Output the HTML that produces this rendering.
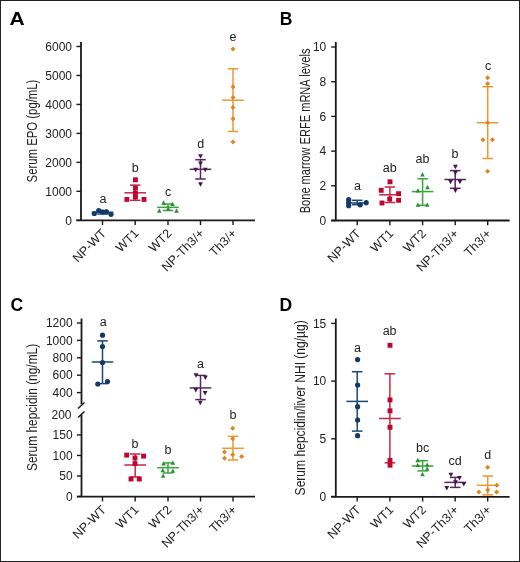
<!DOCTYPE html>
<html><head><meta charset="utf-8"><style>
html,body{margin:0;padding:0;background:#fff;}
#fig{position:relative;width:518px;height:560px;border:1px solid #222;background:#fff;overflow:hidden;}
svg{position:absolute;left:-1px;top:-1px;will-change:transform;}
svg text{font-family:"Liberation Sans", sans-serif;}
</style></head><body>
<div id="fig"><svg width="520" height="562" viewBox="0 0 520 562">
<text x="0.00" y="0.00" font-size="17.5" text-anchor="start" fill="#000" font-weight="bold" transform="translate(9.6,24.9) scale(1.2,1)">A</text>
<text x="279.80" y="24.90" font-size="17.5" text-anchor="start" fill="#000" font-weight="bold" >B</text>
<text x="10.60" y="310.50" font-size="17.5" text-anchor="start" fill="#000" font-weight="bold" >C</text>
<text x="279.60" y="310.50" font-size="17.5" text-anchor="start" fill="#000" font-weight="bold" >D</text>
<line x1="81.00" y1="42.00" x2="81.00" y2="220.30" stroke="#1a1a1a" stroke-width="1.8"/>
<line x1="76.40" y1="220.30" x2="81.00" y2="220.30" stroke="#1a1a1a" stroke-width="1.4"/>
<text x="72.00" y="224.50" font-size="12" text-anchor="end" fill="#222" font-weight="normal" >0</text>
<line x1="76.40" y1="191.33" x2="81.00" y2="191.33" stroke="#1a1a1a" stroke-width="1.4"/>
<text x="72.00" y="195.53" font-size="12" text-anchor="end" fill="#222" font-weight="normal" >1000</text>
<line x1="76.40" y1="162.36" x2="81.00" y2="162.36" stroke="#1a1a1a" stroke-width="1.4"/>
<text x="72.00" y="166.56" font-size="12" text-anchor="end" fill="#222" font-weight="normal" >2000</text>
<line x1="76.40" y1="133.39" x2="81.00" y2="133.39" stroke="#1a1a1a" stroke-width="1.4"/>
<text x="72.00" y="137.59" font-size="12" text-anchor="end" fill="#222" font-weight="normal" >3000</text>
<line x1="76.40" y1="104.42" x2="81.00" y2="104.42" stroke="#1a1a1a" stroke-width="1.4"/>
<text x="72.00" y="108.62" font-size="12" text-anchor="end" fill="#222" font-weight="normal" >4000</text>
<line x1="76.40" y1="75.45" x2="81.00" y2="75.45" stroke="#1a1a1a" stroke-width="1.4"/>
<text x="72.00" y="79.65" font-size="12" text-anchor="end" fill="#222" font-weight="normal" >5000</text>
<line x1="76.40" y1="46.48" x2="81.00" y2="46.48" stroke="#1a1a1a" stroke-width="1.4"/>
<text x="72.00" y="50.68" font-size="12" text-anchor="end" fill="#222" font-weight="normal" >6000</text>
<line x1="76.40" y1="220.30" x2="255.00" y2="220.30" stroke="#1a1a1a" stroke-width="1.8"/>
<line x1="102.50" y1="220.30" x2="102.50" y2="225.10" stroke="#1a1a1a" stroke-width="1.4"/>
<line x1="135.20" y1="220.30" x2="135.20" y2="225.10" stroke="#1a1a1a" stroke-width="1.4"/>
<line x1="168.00" y1="220.30" x2="168.00" y2="225.10" stroke="#1a1a1a" stroke-width="1.4"/>
<line x1="200.50" y1="220.30" x2="200.50" y2="225.10" stroke="#1a1a1a" stroke-width="1.4"/>
<line x1="233.00" y1="220.30" x2="233.00" y2="225.10" stroke="#1a1a1a" stroke-width="1.4"/>
<text x="0" y="0" font-size="12.5" text-anchor="end" fill="#222" transform="translate(106.80,234.10) rotate(-45)">NP-WT</text>
<text x="0" y="0" font-size="12.5" text-anchor="end" fill="#222" transform="translate(139.50,234.10) rotate(-45)">WT1</text>
<text x="0" y="0" font-size="12.5" text-anchor="end" fill="#222" transform="translate(172.30,234.10) rotate(-45)">WT2</text>
<text x="0" y="0" font-size="12.5" text-anchor="end" fill="#222" transform="translate(204.80,234.10) rotate(-45)">NP-Th3/+</text>
<text x="0" y="0" font-size="12.5" text-anchor="end" fill="#222" transform="translate(237.30,234.10) rotate(-45)">Th3/+</text>
<text x="0" y="0" font-size="14" text-anchor="middle" fill="#222" textLength="102.8" lengthAdjust="spacingAndGlyphs" transform="translate(36.60,131.00) rotate(-90)">Serum EPO (pg/mL)</text>
<line x1="102.50" y1="210.50" x2="102.50" y2="214.00" stroke="#1b4777" stroke-width="1.5"/>
<line x1="97.20" y1="210.50" x2="107.80" y2="210.50" stroke="#1b4777" stroke-width="1.5"/>
<line x1="97.20" y1="214.00" x2="107.80" y2="214.00" stroke="#1b4777" stroke-width="1.5"/>
<line x1="91.70" y1="212.30" x2="113.30" y2="212.30" stroke="#1b4777" stroke-width="1.5"/>
<circle cx="94.30" cy="213.50" r="2.6" fill="#133a66"/>
<circle cx="98.70" cy="210.50" r="2.6" fill="#133a66"/>
<circle cx="102.50" cy="212.00" r="2.6" fill="#133a66"/>
<circle cx="106.50" cy="211.80" r="2.6" fill="#133a66"/>
<circle cx="111.00" cy="214.30" r="2.6" fill="#133a66"/>
<line x1="135.20" y1="185.10" x2="135.20" y2="200.30" stroke="#c32848" stroke-width="1.5"/>
<line x1="129.90" y1="185.10" x2="140.50" y2="185.10" stroke="#c32848" stroke-width="1.5"/>
<line x1="129.90" y1="200.30" x2="140.50" y2="200.30" stroke="#c32848" stroke-width="1.5"/>
<line x1="124.40" y1="192.80" x2="146.00" y2="192.80" stroke="#c32848" stroke-width="1.5"/>
<rect x="132.95" y="177.35" width="4.9" height="4.9" fill="#c0062e"/>
<rect x="132.95" y="185.55" width="4.9" height="4.9" fill="#c0062e"/>
<rect x="132.95" y="190.55" width="4.9" height="4.9" fill="#c0062e"/>
<rect x="132.95" y="194.55" width="4.9" height="4.9" fill="#c0062e"/>
<rect x="124.45" y="196.95" width="4.9" height="4.9" fill="#c0062e"/>
<rect x="141.55" y="196.95" width="4.9" height="4.9" fill="#c0062e"/>
<line x1="168.00" y1="204.00" x2="168.00" y2="210.50" stroke="#38a53e" stroke-width="1.5"/>
<line x1="162.70" y1="204.00" x2="173.30" y2="204.00" stroke="#38a53e" stroke-width="1.5"/>
<line x1="162.70" y1="210.50" x2="173.30" y2="210.50" stroke="#38a53e" stroke-width="1.5"/>
<line x1="157.20" y1="207.30" x2="178.80" y2="207.30" stroke="#38a53e" stroke-width="1.5"/>
<path d="M163.60 200.35L165.90 204.65L161.30 204.65Z" fill="#2b8f34"/>
<path d="M172.50 201.65L174.80 205.95L170.20 205.95Z" fill="#2b8f34"/>
<path d="M168.20 206.35L170.50 210.65L165.90 210.65Z" fill="#2b8f34"/>
<path d="M159.30 208.35L161.60 212.65L157.00 212.65Z" fill="#2b8f34"/>
<path d="M176.50 208.35L178.80 212.65L174.20 212.65Z" fill="#2b8f34"/>
<line x1="200.50" y1="159.70" x2="200.50" y2="179.00" stroke="#55285e" stroke-width="1.5"/>
<line x1="195.20" y1="159.70" x2="205.80" y2="159.70" stroke="#55285e" stroke-width="1.5"/>
<line x1="195.20" y1="179.00" x2="205.80" y2="179.00" stroke="#55285e" stroke-width="1.5"/>
<line x1="189.70" y1="169.30" x2="211.30" y2="169.30" stroke="#55285e" stroke-width="1.5"/>
<path d="M198.10 154.35L202.90 154.35L200.50 158.85Z" fill="#45164c"/>
<path d="M198.10 161.55L202.90 161.55L200.50 166.05Z" fill="#45164c"/>
<path d="M193.30 167.65L198.10 167.65L195.70 172.15Z" fill="#45164c"/>
<path d="M202.90 167.65L207.70 167.65L205.30 172.15Z" fill="#45164c"/>
<path d="M198.10 182.35L202.90 182.35L200.50 186.85Z" fill="#45164c"/>
<line x1="233.00" y1="68.80" x2="233.00" y2="131.50" stroke="#eb9733" stroke-width="1.5"/>
<line x1="227.70" y1="68.80" x2="238.30" y2="68.80" stroke="#eb9733" stroke-width="1.5"/>
<line x1="227.70" y1="131.50" x2="238.30" y2="131.50" stroke="#eb9733" stroke-width="1.5"/>
<line x1="222.20" y1="100.20" x2="243.80" y2="100.20" stroke="#eb9733" stroke-width="1.5"/>
<path d="M233.00 46.60L235.50 49.10L233.00 51.60L230.50 49.10Z" fill="#df851f"/>
<path d="M233.00 84.30L235.50 86.80L233.00 89.30L230.50 86.80Z" fill="#df851f"/>
<path d="M233.00 95.00L235.50 97.50L233.00 100.00L230.50 97.50Z" fill="#df851f"/>
<path d="M233.00 104.90L235.50 107.40L233.00 109.90L230.50 107.40Z" fill="#df851f"/>
<path d="M233.00 116.30L235.50 118.80L233.00 121.30L230.50 118.80Z" fill="#df851f"/>
<path d="M233.00 139.40L235.50 141.90L233.00 144.40L230.50 141.90Z" fill="#df851f"/>
<text x="102.90" y="203.00" font-size="12.5" text-anchor="middle" fill="#222" font-weight="normal" >a</text>
<text x="135.30" y="172.00" font-size="12.5" text-anchor="middle" fill="#222" font-weight="normal" >b</text>
<text x="168.10" y="195.90" font-size="12.5" text-anchor="middle" fill="#222" font-weight="normal" >c</text>
<text x="200.80" y="148.00" font-size="12.5" text-anchor="middle" fill="#222" font-weight="normal" >d</text>
<text x="233.10" y="40.60" font-size="12.5" text-anchor="middle" fill="#222" font-weight="normal" >e</text>
<line x1="335.80" y1="42.00" x2="335.80" y2="220.50" stroke="#1a1a1a" stroke-width="1.8"/>
<line x1="331.20" y1="220.50" x2="335.80" y2="220.50" stroke="#1a1a1a" stroke-width="1.4"/>
<text x="326.30" y="224.70" font-size="12" text-anchor="end" fill="#222" font-weight="normal" >0</text>
<line x1="331.20" y1="185.80" x2="335.80" y2="185.80" stroke="#1a1a1a" stroke-width="1.4"/>
<text x="326.30" y="190.00" font-size="12" text-anchor="end" fill="#222" font-weight="normal" >2</text>
<line x1="331.20" y1="151.10" x2="335.80" y2="151.10" stroke="#1a1a1a" stroke-width="1.4"/>
<text x="326.30" y="155.30" font-size="12" text-anchor="end" fill="#222" font-weight="normal" >4</text>
<line x1="331.20" y1="116.40" x2="335.80" y2="116.40" stroke="#1a1a1a" stroke-width="1.4"/>
<text x="326.30" y="120.60" font-size="12" text-anchor="end" fill="#222" font-weight="normal" >6</text>
<line x1="331.20" y1="81.70" x2="335.80" y2="81.70" stroke="#1a1a1a" stroke-width="1.4"/>
<text x="326.30" y="85.90" font-size="12" text-anchor="end" fill="#222" font-weight="normal" >8</text>
<line x1="331.20" y1="47.00" x2="335.80" y2="47.00" stroke="#1a1a1a" stroke-width="1.4"/>
<text x="326.30" y="51.20" font-size="12" text-anchor="end" fill="#222" font-weight="normal" >10</text>
<line x1="331.20" y1="220.50" x2="509.60" y2="220.50" stroke="#1a1a1a" stroke-width="1.8"/>
<line x1="357.20" y1="220.50" x2="357.20" y2="225.30" stroke="#1a1a1a" stroke-width="1.4"/>
<line x1="389.90" y1="220.50" x2="389.90" y2="225.30" stroke="#1a1a1a" stroke-width="1.4"/>
<line x1="422.60" y1="220.50" x2="422.60" y2="225.30" stroke="#1a1a1a" stroke-width="1.4"/>
<line x1="455.20" y1="220.50" x2="455.20" y2="225.30" stroke="#1a1a1a" stroke-width="1.4"/>
<line x1="487.70" y1="220.50" x2="487.70" y2="225.30" stroke="#1a1a1a" stroke-width="1.4"/>
<text x="0" y="0" font-size="12.5" text-anchor="end" fill="#222" transform="translate(361.50,234.30) rotate(-45)">NP-WT</text>
<text x="0" y="0" font-size="12.5" text-anchor="end" fill="#222" transform="translate(394.20,234.30) rotate(-45)">WT1</text>
<text x="0" y="0" font-size="12.5" text-anchor="end" fill="#222" transform="translate(426.90,234.30) rotate(-45)">WT2</text>
<text x="0" y="0" font-size="12.5" text-anchor="end" fill="#222" transform="translate(459.50,234.30) rotate(-45)">NP-Th3/+</text>
<text x="0" y="0" font-size="12.5" text-anchor="end" fill="#222" transform="translate(492.00,234.30) rotate(-45)">Th3/+</text>
<text x="0" y="0" font-size="14" text-anchor="middle" fill="#222" textLength="164.8" lengthAdjust="spacingAndGlyphs" transform="translate(309.60,130.90) rotate(-90)">Bone marrow ERFE mRNA levels</text>
<line x1="357.20" y1="200.30" x2="357.20" y2="204.70" stroke="#1b4777" stroke-width="1.5"/>
<line x1="351.90" y1="200.30" x2="362.50" y2="200.30" stroke="#1b4777" stroke-width="1.5"/>
<line x1="351.90" y1="204.70" x2="362.50" y2="204.70" stroke="#1b4777" stroke-width="1.5"/>
<line x1="346.40" y1="203.00" x2="368.00" y2="203.00" stroke="#1b4777" stroke-width="1.5"/>
<circle cx="348.70" cy="199.70" r="2.6" fill="#133a66"/>
<circle cx="348.70" cy="202.70" r="2.6" fill="#133a66"/>
<circle cx="348.70" cy="205.70" r="2.6" fill="#133a66"/>
<circle cx="360.20" cy="204.80" r="2.6" fill="#133a66"/>
<circle cx="366.20" cy="202.70" r="2.6" fill="#133a66"/>
<line x1="389.90" y1="187.00" x2="389.90" y2="202.50" stroke="#c32848" stroke-width="1.5"/>
<line x1="384.60" y1="187.00" x2="395.20" y2="187.00" stroke="#c32848" stroke-width="1.5"/>
<line x1="384.60" y1="202.50" x2="395.20" y2="202.50" stroke="#c32848" stroke-width="1.5"/>
<line x1="379.10" y1="194.80" x2="400.70" y2="194.80" stroke="#c32848" stroke-width="1.5"/>
<rect x="387.55" y="179.35" width="4.9" height="4.9" fill="#c0062e"/>
<rect x="378.75" y="187.85" width="4.9" height="4.9" fill="#c0062e"/>
<rect x="396.15" y="191.25" width="4.9" height="4.9" fill="#c0062e"/>
<rect x="387.25" y="196.55" width="4.9" height="4.9" fill="#c0062e"/>
<rect x="396.15" y="197.85" width="4.9" height="4.9" fill="#c0062e"/>
<rect x="379.55" y="200.55" width="4.9" height="4.9" fill="#c0062e"/>
<line x1="422.60" y1="178.80" x2="422.60" y2="205.30" stroke="#38a53e" stroke-width="1.5"/>
<line x1="417.30" y1="178.80" x2="427.90" y2="178.80" stroke="#38a53e" stroke-width="1.5"/>
<line x1="417.30" y1="205.30" x2="427.90" y2="205.30" stroke="#38a53e" stroke-width="1.5"/>
<line x1="411.80" y1="191.60" x2="433.40" y2="191.60" stroke="#38a53e" stroke-width="1.5"/>
<path d="M422.50 172.15L424.80 176.45L420.20 176.45Z" fill="#2b8f34"/>
<path d="M427.50 184.95L429.80 189.25L425.20 189.25Z" fill="#2b8f34"/>
<path d="M417.90 188.15L420.20 192.45L415.60 192.45Z" fill="#2b8f34"/>
<path d="M417.90 202.45L420.20 206.75L415.60 206.75Z" fill="#2b8f34"/>
<path d="M427.30 202.45L429.60 206.75L425.00 206.75Z" fill="#2b8f34"/>
<line x1="455.20" y1="170.60" x2="455.20" y2="188.30" stroke="#55285e" stroke-width="1.5"/>
<line x1="449.90" y1="170.60" x2="460.50" y2="170.60" stroke="#55285e" stroke-width="1.5"/>
<line x1="449.90" y1="188.30" x2="460.50" y2="188.30" stroke="#55285e" stroke-width="1.5"/>
<line x1="444.40" y1="179.50" x2="466.00" y2="179.50" stroke="#55285e" stroke-width="1.5"/>
<path d="M453.00 164.65L457.80 164.65L455.40 169.15Z" fill="#45164c"/>
<path d="M453.00 170.75L457.80 170.75L455.40 175.25Z" fill="#45164c"/>
<path d="M448.10 179.85L452.90 179.85L450.50 184.35Z" fill="#45164c"/>
<path d="M457.50 179.85L462.30 179.85L459.90 184.35Z" fill="#45164c"/>
<path d="M453.00 188.45L457.80 188.45L455.40 192.95Z" fill="#45164c"/>
<line x1="487.70" y1="86.70" x2="487.70" y2="158.50" stroke="#eb9733" stroke-width="1.5"/>
<line x1="482.40" y1="86.70" x2="493.00" y2="86.70" stroke="#eb9733" stroke-width="1.5"/>
<line x1="482.40" y1="158.50" x2="493.00" y2="158.50" stroke="#eb9733" stroke-width="1.5"/>
<line x1="476.90" y1="122.70" x2="498.50" y2="122.70" stroke="#eb9733" stroke-width="1.5"/>
<path d="M487.60 75.20L490.10 77.70L487.60 80.20L485.10 77.70Z" fill="#df851f"/>
<path d="M487.60 81.30L490.10 83.80L487.60 86.30L485.10 83.80Z" fill="#df851f"/>
<path d="M487.60 120.20L490.10 122.70L487.60 125.20L485.10 122.70Z" fill="#df851f"/>
<path d="M482.90 137.20L485.40 139.70L482.90 142.20L480.40 139.70Z" fill="#df851f"/>
<path d="M492.40 137.20L494.90 139.70L492.40 142.20L489.90 139.70Z" fill="#df851f"/>
<path d="M487.60 168.70L490.10 171.20L487.60 173.70L485.10 171.20Z" fill="#df851f"/>
<text x="357.40" y="190.40" font-size="12.5" text-anchor="middle" fill="#222" font-weight="normal" >a</text>
<text x="389.70" y="172.00" font-size="12.5" text-anchor="middle" fill="#222" font-weight="normal" >ab</text>
<text x="422.50" y="162.50" font-size="12.5" text-anchor="middle" fill="#222" font-weight="normal" >ab</text>
<text x="455.00" y="157.70" font-size="12.5" text-anchor="middle" fill="#222" font-weight="normal" >b</text>
<text x="488.00" y="69.70" font-size="12.5" text-anchor="middle" fill="#222" font-weight="normal" >c</text>
<line x1="81.50" y1="318.50" x2="81.50" y2="404.30" stroke="#1a1a1a" stroke-width="1.8"/>
<line x1="76.90" y1="392.60" x2="81.50" y2="392.60" stroke="#1a1a1a" stroke-width="1.4"/>
<text x="72.60" y="396.80" font-size="12" text-anchor="end" fill="#222" font-weight="normal" >400</text>
<line x1="76.90" y1="375.20" x2="81.50" y2="375.20" stroke="#1a1a1a" stroke-width="1.4"/>
<text x="72.60" y="379.40" font-size="12" text-anchor="end" fill="#222" font-weight="normal" >600</text>
<line x1="76.90" y1="357.80" x2="81.50" y2="357.80" stroke="#1a1a1a" stroke-width="1.4"/>
<text x="72.60" y="362.00" font-size="12" text-anchor="end" fill="#222" font-weight="normal" >800</text>
<line x1="76.90" y1="340.40" x2="81.50" y2="340.40" stroke="#1a1a1a" stroke-width="1.4"/>
<text x="72.60" y="344.60" font-size="12" text-anchor="end" fill="#222" font-weight="normal" >1000</text>
<line x1="76.90" y1="323.00" x2="81.50" y2="323.00" stroke="#1a1a1a" stroke-width="1.4"/>
<text x="72.60" y="327.20" font-size="12" text-anchor="end" fill="#222" font-weight="normal" >1200</text>
<line x1="81.50" y1="414.50" x2="81.50" y2="496.50" stroke="#1a1a1a" stroke-width="1.8"/>
<line x1="76.90" y1="496.50" x2="81.50" y2="496.50" stroke="#1a1a1a" stroke-width="1.4"/>
<text x="72.60" y="500.70" font-size="12" text-anchor="end" fill="#222" font-weight="normal" >0</text>
<line x1="76.90" y1="475.98" x2="81.50" y2="475.98" stroke="#1a1a1a" stroke-width="1.4"/>
<text x="72.60" y="480.18" font-size="12" text-anchor="end" fill="#222" font-weight="normal" >50</text>
<line x1="76.90" y1="455.45" x2="81.50" y2="455.45" stroke="#1a1a1a" stroke-width="1.4"/>
<text x="72.60" y="459.65" font-size="12" text-anchor="end" fill="#222" font-weight="normal" >100</text>
<line x1="76.90" y1="434.93" x2="81.50" y2="434.93" stroke="#1a1a1a" stroke-width="1.4"/>
<text x="72.60" y="439.12" font-size="12" text-anchor="end" fill="#222" font-weight="normal" >150</text>
<text x="71.50" y="418.60" font-size="12" text-anchor="end" fill="#222" font-weight="normal" >200</text>
<line x1="78.00" y1="408.50" x2="84.50" y2="402.50" stroke="#1a1a1a" stroke-width="1.5"/>
<line x1="78.00" y1="417.50" x2="84.50" y2="411.50" stroke="#1a1a1a" stroke-width="1.5"/>
<line x1="76.90" y1="496.70" x2="255.00" y2="496.70" stroke="#1a1a1a" stroke-width="1.8"/>
<line x1="102.50" y1="496.70" x2="102.50" y2="501.50" stroke="#1a1a1a" stroke-width="1.4"/>
<line x1="135.20" y1="496.70" x2="135.20" y2="501.50" stroke="#1a1a1a" stroke-width="1.4"/>
<line x1="168.00" y1="496.70" x2="168.00" y2="501.50" stroke="#1a1a1a" stroke-width="1.4"/>
<line x1="200.50" y1="496.70" x2="200.50" y2="501.50" stroke="#1a1a1a" stroke-width="1.4"/>
<line x1="233.00" y1="496.70" x2="233.00" y2="501.50" stroke="#1a1a1a" stroke-width="1.4"/>
<text x="0" y="0" font-size="12.5" text-anchor="end" fill="#222" transform="translate(106.80,510.50) rotate(-45)">NP-WT</text>
<text x="0" y="0" font-size="12.5" text-anchor="end" fill="#222" transform="translate(139.50,510.50) rotate(-45)">WT1</text>
<text x="0" y="0" font-size="12.5" text-anchor="end" fill="#222" transform="translate(172.30,510.50) rotate(-45)">WT2</text>
<text x="0" y="0" font-size="12.5" text-anchor="end" fill="#222" transform="translate(204.80,510.50) rotate(-45)">NP-Th3/+</text>
<text x="0" y="0" font-size="12.5" text-anchor="end" fill="#222" transform="translate(237.30,510.50) rotate(-45)">Th3/+</text>
<text x="0" y="0" font-size="14" text-anchor="middle" fill="#222" textLength="127.2" lengthAdjust="spacingAndGlyphs" transform="translate(36.70,407.40) rotate(-90)">Serum hepcidin (ng/mL)</text>
<line x1="102.50" y1="340.90" x2="102.50" y2="383.60" stroke="#1b4777" stroke-width="1.5"/>
<line x1="97.20" y1="340.90" x2="107.80" y2="340.90" stroke="#1b4777" stroke-width="1.5"/>
<line x1="97.20" y1="383.60" x2="107.80" y2="383.60" stroke="#1b4777" stroke-width="1.5"/>
<line x1="91.70" y1="362.00" x2="113.30" y2="362.00" stroke="#1b4777" stroke-width="1.5"/>
<circle cx="102.50" cy="335.20" r="2.6" fill="#133a66"/>
<circle cx="102.50" cy="346.60" r="2.6" fill="#133a66"/>
<circle cx="102.50" cy="362.50" r="2.6" fill="#133a66"/>
<circle cx="97.80" cy="384.00" r="2.6" fill="#133a66"/>
<circle cx="107.50" cy="381.60" r="2.6" fill="#133a66"/>
<line x1="135.20" y1="454.00" x2="135.20" y2="477.00" stroke="#c32848" stroke-width="1.5"/>
<line x1="129.90" y1="454.00" x2="140.50" y2="454.00" stroke="#c32848" stroke-width="1.5"/>
<line x1="129.90" y1="477.00" x2="140.50" y2="477.00" stroke="#c32848" stroke-width="1.5"/>
<line x1="124.40" y1="465.00" x2="146.00" y2="465.00" stroke="#c32848" stroke-width="1.5"/>
<rect x="124.25" y="452.65" width="4.9" height="4.9" fill="#c0062e"/>
<rect x="141.15" y="453.65" width="4.9" height="4.9" fill="#c0062e"/>
<rect x="132.55" y="455.55" width="4.9" height="4.9" fill="#c0062e"/>
<rect x="132.55" y="461.15" width="4.9" height="4.9" fill="#c0062e"/>
<rect x="128.55" y="476.55" width="4.9" height="4.9" fill="#c0062e"/>
<rect x="136.85" y="476.55" width="4.9" height="4.9" fill="#c0062e"/>
<line x1="168.00" y1="462.90" x2="168.00" y2="473.00" stroke="#38a53e" stroke-width="1.5"/>
<line x1="162.70" y1="462.90" x2="173.30" y2="462.90" stroke="#38a53e" stroke-width="1.5"/>
<line x1="162.70" y1="473.00" x2="173.30" y2="473.00" stroke="#38a53e" stroke-width="1.5"/>
<line x1="157.20" y1="467.70" x2="178.80" y2="467.70" stroke="#38a53e" stroke-width="1.5"/>
<path d="M163.60 461.15L165.90 465.45L161.30 465.45Z" fill="#2b8f34"/>
<path d="M172.90 460.55L175.20 464.85L170.60 464.85Z" fill="#2b8f34"/>
<path d="M162.70 468.05L165.00 472.35L160.40 472.35Z" fill="#2b8f34"/>
<path d="M172.90 468.55L175.20 472.85L170.60 472.85Z" fill="#2b8f34"/>
<path d="M163.10 473.45L165.40 477.75L160.80 477.75Z" fill="#2b8f34"/>
<line x1="200.50" y1="375.40" x2="200.50" y2="399.60" stroke="#55285e" stroke-width="1.5"/>
<line x1="195.20" y1="375.40" x2="205.80" y2="375.40" stroke="#55285e" stroke-width="1.5"/>
<line x1="195.20" y1="399.60" x2="205.80" y2="399.60" stroke="#55285e" stroke-width="1.5"/>
<line x1="189.70" y1="387.90" x2="211.30" y2="387.90" stroke="#55285e" stroke-width="1.5"/>
<path d="M193.60 373.35L198.40 373.35L196.00 377.85Z" fill="#45164c"/>
<path d="M203.00 375.45L207.80 375.45L205.40 379.95Z" fill="#45164c"/>
<path d="M193.40 388.05L198.20 388.05L195.80 392.55Z" fill="#45164c"/>
<path d="M202.70 390.95L207.50 390.95L205.10 395.45Z" fill="#45164c"/>
<path d="M197.90 400.75L202.70 400.75L200.30 405.25Z" fill="#45164c"/>
<line x1="233.00" y1="436.30" x2="233.00" y2="460.00" stroke="#eb9733" stroke-width="1.5"/>
<line x1="227.70" y1="436.30" x2="238.30" y2="436.30" stroke="#eb9733" stroke-width="1.5"/>
<line x1="227.70" y1="460.00" x2="238.30" y2="460.00" stroke="#eb9733" stroke-width="1.5"/>
<line x1="222.20" y1="448.30" x2="243.80" y2="448.30" stroke="#eb9733" stroke-width="1.5"/>
<path d="M232.70 425.80L235.20 428.30L232.70 430.80L230.20 428.30Z" fill="#df851f"/>
<path d="M232.70 436.20L235.20 438.70L232.70 441.20L230.20 438.70Z" fill="#df851f"/>
<path d="M224.50 449.60L227.00 452.10L224.50 454.60L222.00 452.10Z" fill="#df851f"/>
<path d="M232.70 452.20L235.20 454.70L232.70 457.20L230.20 454.70Z" fill="#df851f"/>
<path d="M241.60 453.90L244.10 456.40L241.60 458.90L239.10 456.40Z" fill="#df851f"/>
<path d="M224.50 455.70L227.00 458.20L224.50 460.70L222.00 458.20Z" fill="#df851f"/>
<text x="103.20" y="326.40" font-size="12.5" text-anchor="middle" fill="#222" font-weight="normal" >a</text>
<text x="135.00" y="447.70" font-size="12.5" text-anchor="middle" fill="#222" font-weight="normal" >b</text>
<text x="168.00" y="454.00" font-size="12.5" text-anchor="middle" fill="#222" font-weight="normal" >b</text>
<text x="200.50" y="367.90" font-size="12.5" text-anchor="middle" fill="#222" font-weight="normal" >a</text>
<text x="233.00" y="418.70" font-size="12.5" text-anchor="middle" fill="#222" font-weight="normal" >b</text>
<line x1="335.80" y1="318.50" x2="335.80" y2="496.50" stroke="#1a1a1a" stroke-width="1.8"/>
<line x1="331.20" y1="496.50" x2="335.80" y2="496.50" stroke="#1a1a1a" stroke-width="1.4"/>
<text x="326.30" y="500.70" font-size="12" text-anchor="end" fill="#222" font-weight="normal" >0</text>
<line x1="331.20" y1="438.80" x2="335.80" y2="438.80" stroke="#1a1a1a" stroke-width="1.4"/>
<text x="326.30" y="443.00" font-size="12" text-anchor="end" fill="#222" font-weight="normal" >5</text>
<line x1="331.20" y1="381.10" x2="335.80" y2="381.10" stroke="#1a1a1a" stroke-width="1.4"/>
<text x="326.30" y="385.30" font-size="12" text-anchor="end" fill="#222" font-weight="normal" >10</text>
<line x1="331.20" y1="323.40" x2="335.80" y2="323.40" stroke="#1a1a1a" stroke-width="1.4"/>
<text x="326.30" y="327.60" font-size="12" text-anchor="end" fill="#222" font-weight="normal" >15</text>
<line x1="331.20" y1="496.80" x2="509.60" y2="496.80" stroke="#1a1a1a" stroke-width="1.8"/>
<line x1="357.20" y1="496.80" x2="357.20" y2="501.60" stroke="#1a1a1a" stroke-width="1.4"/>
<line x1="389.90" y1="496.80" x2="389.90" y2="501.60" stroke="#1a1a1a" stroke-width="1.4"/>
<line x1="422.60" y1="496.80" x2="422.60" y2="501.60" stroke="#1a1a1a" stroke-width="1.4"/>
<line x1="455.20" y1="496.80" x2="455.20" y2="501.60" stroke="#1a1a1a" stroke-width="1.4"/>
<line x1="487.70" y1="496.80" x2="487.70" y2="501.60" stroke="#1a1a1a" stroke-width="1.4"/>
<text x="0" y="0" font-size="12.5" text-anchor="end" fill="#222" transform="translate(361.50,510.60) rotate(-45)">NP-WT</text>
<text x="0" y="0" font-size="12.5" text-anchor="end" fill="#222" transform="translate(394.20,510.60) rotate(-45)">WT1</text>
<text x="0" y="0" font-size="12.5" text-anchor="end" fill="#222" transform="translate(426.90,510.60) rotate(-45)">WT2</text>
<text x="0" y="0" font-size="12.5" text-anchor="end" fill="#222" transform="translate(459.50,510.60) rotate(-45)">NP-Th3/+</text>
<text x="0" y="0" font-size="12.5" text-anchor="end" fill="#222" transform="translate(492.00,510.60) rotate(-45)">Th3/+</text>
<text x="0" y="0" font-size="14" text-anchor="middle" fill="#222" textLength="175.2" lengthAdjust="spacingAndGlyphs" transform="translate(305.20,407.80) rotate(-90)">Serum hepcidin/liver NHI (ng/µg)</text>
<line x1="357.20" y1="371.70" x2="357.20" y2="431.10" stroke="#1b4777" stroke-width="1.5"/>
<line x1="351.90" y1="371.70" x2="362.50" y2="371.70" stroke="#1b4777" stroke-width="1.5"/>
<line x1="351.90" y1="431.10" x2="362.50" y2="431.10" stroke="#1b4777" stroke-width="1.5"/>
<line x1="346.40" y1="401.40" x2="368.00" y2="401.40" stroke="#1b4777" stroke-width="1.5"/>
<circle cx="357.60" cy="359.60" r="2.6" fill="#133a66"/>
<circle cx="357.60" cy="385.00" r="2.6" fill="#133a66"/>
<circle cx="357.60" cy="406.70" r="2.6" fill="#133a66"/>
<circle cx="357.60" cy="420.00" r="2.6" fill="#133a66"/>
<circle cx="357.60" cy="435.70" r="2.6" fill="#133a66"/>
<line x1="389.90" y1="373.80" x2="389.90" y2="462.80" stroke="#c32848" stroke-width="1.5"/>
<line x1="384.60" y1="373.80" x2="395.20" y2="373.80" stroke="#c32848" stroke-width="1.5"/>
<line x1="384.60" y1="462.80" x2="395.20" y2="462.80" stroke="#c32848" stroke-width="1.5"/>
<line x1="379.10" y1="418.50" x2="400.70" y2="418.50" stroke="#c32848" stroke-width="1.5"/>
<rect x="387.55" y="342.85" width="4.9" height="4.9" fill="#c0062e"/>
<rect x="387.55" y="397.45" width="4.9" height="4.9" fill="#c0062e"/>
<rect x="387.55" y="408.35" width="4.9" height="4.9" fill="#c0062e"/>
<rect x="387.55" y="424.85" width="4.9" height="4.9" fill="#c0062e"/>
<rect x="387.55" y="457.95" width="4.9" height="4.9" fill="#c0062e"/>
<rect x="387.55" y="462.75" width="4.9" height="4.9" fill="#c0062e"/>
<line x1="422.60" y1="460.70" x2="422.60" y2="470.90" stroke="#38a53e" stroke-width="1.5"/>
<line x1="417.30" y1="460.70" x2="427.90" y2="460.70" stroke="#38a53e" stroke-width="1.5"/>
<line x1="417.30" y1="470.90" x2="427.90" y2="470.90" stroke="#38a53e" stroke-width="1.5"/>
<line x1="411.80" y1="466.00" x2="433.40" y2="466.00" stroke="#38a53e" stroke-width="1.5"/>
<path d="M417.70 457.85L420.00 462.15L415.40 462.15Z" fill="#2b8f34"/>
<path d="M427.20 462.45L429.50 466.75L424.90 466.75Z" fill="#2b8f34"/>
<path d="M417.70 462.75L420.00 467.05L415.40 467.05Z" fill="#2b8f34"/>
<path d="M427.20 466.45L429.50 470.75L424.90 470.75Z" fill="#2b8f34"/>
<path d="M422.50 472.05L424.80 476.35L420.20 476.35Z" fill="#2b8f34"/>
<line x1="455.20" y1="477.40" x2="455.20" y2="487.40" stroke="#55285e" stroke-width="1.5"/>
<line x1="449.90" y1="477.40" x2="460.50" y2="477.40" stroke="#55285e" stroke-width="1.5"/>
<line x1="449.90" y1="487.40" x2="460.50" y2="487.40" stroke="#55285e" stroke-width="1.5"/>
<line x1="444.40" y1="482.40" x2="466.00" y2="482.40" stroke="#55285e" stroke-width="1.5"/>
<path d="M448.50 472.75L453.30 472.75L450.90 477.25Z" fill="#45164c"/>
<path d="M457.10 476.05L461.90 476.05L459.50 480.55Z" fill="#45164c"/>
<path d="M461.40 482.05L466.20 482.05L463.80 486.55Z" fill="#45164c"/>
<path d="M444.40 485.95L449.20 485.95L446.80 490.45Z" fill="#45164c"/>
<path d="M453.10 480.25L457.90 480.25L455.50 484.75Z" fill="#45164c"/>
<line x1="487.70" y1="476.00" x2="487.70" y2="494.90" stroke="#eb9733" stroke-width="1.5"/>
<line x1="482.40" y1="476.00" x2="493.00" y2="476.00" stroke="#eb9733" stroke-width="1.5"/>
<line x1="482.40" y1="494.90" x2="493.00" y2="494.90" stroke="#eb9733" stroke-width="1.5"/>
<line x1="476.90" y1="485.30" x2="498.50" y2="485.30" stroke="#eb9733" stroke-width="1.5"/>
<path d="M487.70 464.70L490.20 467.20L487.70 469.70L485.20 467.20Z" fill="#df851f"/>
<path d="M496.80 482.80L499.30 485.30L496.80 487.80L494.30 485.30Z" fill="#df851f"/>
<path d="M478.90 489.50L481.40 492.00L478.90 494.50L476.40 492.00Z" fill="#df851f"/>
<path d="M487.70 487.60L490.20 490.10L487.70 492.60L485.20 490.10Z" fill="#df851f"/>
<path d="M496.60 489.50L499.10 492.00L496.60 494.50L494.10 492.00Z" fill="#df851f"/>
<text x="357.50" y="351.90" font-size="12.5" text-anchor="middle" fill="#222" font-weight="normal" >a</text>
<text x="389.60" y="335.20" font-size="12.5" text-anchor="middle" fill="#222" font-weight="normal" >ab</text>
<text x="422.70" y="452.00" font-size="12.5" text-anchor="middle" fill="#222" font-weight="normal" >bc</text>
<text x="455.00" y="465.30" font-size="12.5" text-anchor="middle" fill="#222" font-weight="normal" >cd</text>
<text x="487.80" y="458.90" font-size="12.5" text-anchor="middle" fill="#222" font-weight="normal" >d</text>
</svg></div>
</body></html>
